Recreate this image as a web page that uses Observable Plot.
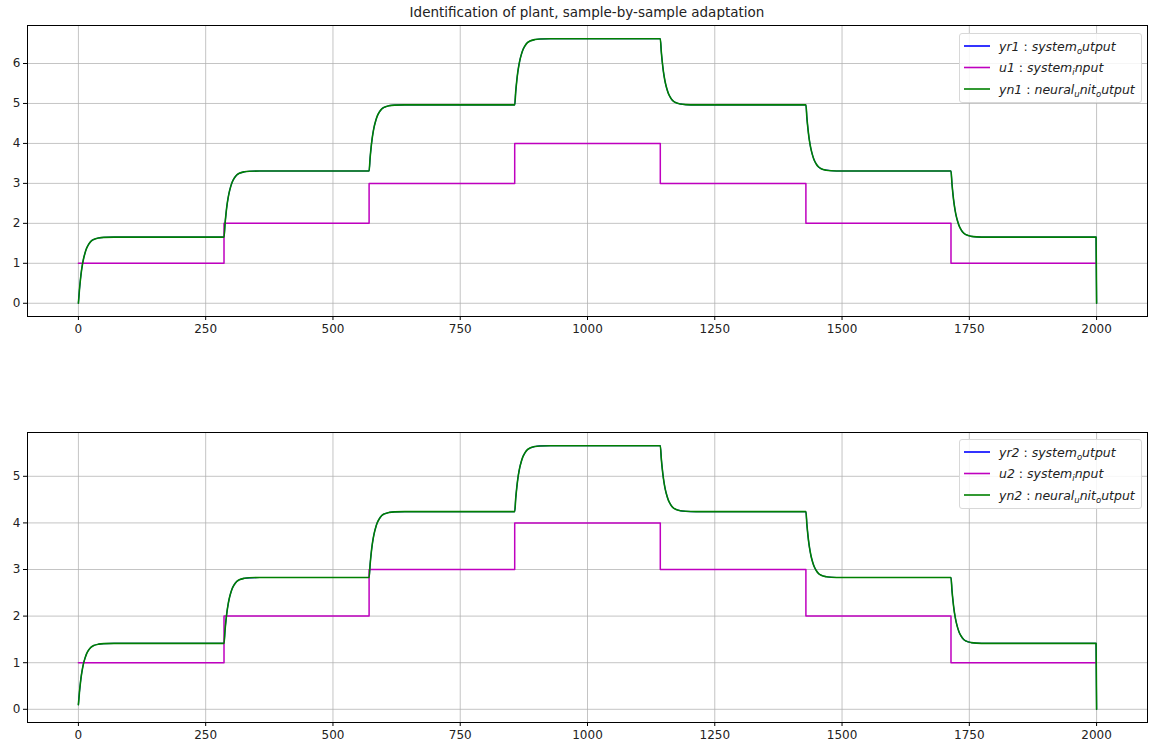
<!DOCTYPE html>
<html>
<head>
<meta charset="utf-8">
<script src="https://cdn.jsdelivr.net/npm/d3@7"></script>
<script src="https://cdn.jsdelivr.net/npm/@observablehq/plot@0.6"></script>
<style>
  body { margin: 0; background: #fff; }
  #wrap { position: relative; width: 1152px; height: 747px; font-family: "DejaVu Sans", sans-serif; }
  .abs { position: absolute; }
  #title { left: 27px; width: 1120px; top: 4px; text-align: center; font-size: 13.5px; color: #222; }
  .legend { position: absolute; background: rgba(255,255,255,0.85); border: 1px solid #d8d8d8; border-radius: 3px; }
</style>
</head>
<body>
<div id="wrap">
  <div id="title" class="abs">Identification of plant, sample-by-sample adaptation</div>
  <div id="p1" class="abs" style="left:0;top:20px"></div>
  <div id="p2" class="abs" style="left:0;top:420px"></div>
</div>
<script>
// ---- data ----
const stepTimes = [0, 286, 571, 857, 1143, 1429, 1714];
const uLevels   = [1, 2, 3, 4, 3, 2, 1];
const endTime = 2000;
const yr1Start = 0.0;
const yr1Levels = [1.655, 3.31, 4.965, 6.62, 4.965, 3.31, 1.655];
const yr2Start = 0.1;
const yr2Levels = [1.414, 2.828, 4.243, 5.657, 4.243, 2.828, 1.414];
const endValue = 0;
// response shape after each step (samples after step, fraction of change reached)
const riseOffsets = [0, 2, 4, 6, 8, 10, 13, 16, 20, 25, 30, 40, 50, 70];
const riseFrac    = [0, 0.2, 0.36, 0.49, 0.59, 0.67, 0.76, 0.83, 0.89, 0.94, 0.965, 0.988, 0.996, 1];
const xTicks = [0, 250, 500, 750, 1000, 1250, 1500, 1750, 2000];
const y1Ticks = [0, 1, 2, 3, 4, 5, 6];
const y2Ticks = [0, 1, 2, 3, 4, 5];

// ---- build tables ----
function uSeries() {
  const pts = stepTimes.map((t, i) => ({x: t, y: uLevels[i]}));
  pts.push({x: endTime - 1, y: uLevels[uLevels.length - 1]});
  return pts;
}
function ySeries(start, levels) {
  const pts = [];
  let prev = start;
  stepTimes.forEach((t, i) => {
    const next = i + 1 < stepTimes.length ? stepTimes[i + 1] : endTime - 1;
    riseOffsets.forEach((k, j) => {
      if (t + k < next) pts.push({x: t + k, y: prev + riseFrac[j] * (levels[i] - prev)});
    });
    pts.push({x: next, y: levels[i]});
    prev = levels[i];
  });
  pts.push({x: endTime, y: endValue});
  return pts;
}

const C = {yr: "#0000ff", u: "#bf00bf", yn: "#008000"};

function makePlot(yDomain, yTicks, yr, u, mt, mb, h) {
  return Plot.plot({
    width: 1152, height: h,
    marginLeft: 27, marginRight: 5, marginTop: mt, marginBottom: mb,
    style: {fontFamily: "DejaVu Sans, sans-serif", fontSize: "12px", color: "#222", background: "transparent"},
    x: {domain: [-100, 2100]},
    y: {domain: yDomain},
    marks: [
      Plot.gridX(xTicks, {stroke: "#b0b0b0", strokeOpacity: 0.75, strokeWidth: 1}),
      Plot.gridY(yTicks, {stroke: "#b0b0b0", strokeOpacity: 0.75, strokeWidth: 1}),
      Plot.axisX({ticks: xTicks, tickSize: 4, tickPadding: 4, label: null, stroke: "#000", fill: "#222", fontSize: 12, tickFormat: d => String(d)}),
      Plot.axisY({ticks: yTicks, tickSize: 4, tickPadding: 3, label: null, stroke: "#000", fill: "#222", fontSize: 12, tickFormat: d => String(d)}),
      Plot.line(yr, {x: "x", y: "y", stroke: C.yr, strokeWidth: 1.2, curve: "monotone-x"}),
      Plot.line(u, {x: "x", y: "y", stroke: C.u, strokeWidth: 1.5, curve: "step-after"}),
      Plot.line(yr, {x: "x", y: "y", stroke: C.yn, strokeWidth: 1.6, curve: "monotone-x"}),
      Plot.frame({stroke: "#000", strokeWidth: 1})
    ]
  });
}

const yr1 = ySeries(yr1Start, yr1Levels);
const yr2 = ySeries(yr2Start, yr2Levels);
const u = uSeries();

document.getElementById("p1").append(makePlot([-0.331, 6.951], y1Ticks, yr1, u, 5, 24, 320));
document.getElementById("p2").append(makePlot([-0.283, 5.94], y2Ticks, yr2, u, 12, 25, 327));

// ---- legends ----
function legend(top, n) {
  const items = [
    {c: C.yr, parts: [["yr" + n, 0], [" : ", 0, "n"], ["system", 0], ["o", 1], ["utput", 0]]},
    {c: C.u, parts: [["u" + n, 0], [" : ", 0, "n"], ["system", 0], ["i", 1], ["nput", 0]]},
    {c: C.yn, parts: [["yn" + n, 0], [" : ", 0, "n"], ["neural", 0], ["u", 1], ["nit", 0], ["o", 1], ["utput", 0]]}
  ];
  const box = d3.select("#wrap").append("div").attr("class", "legend")
    .style("left", "959px").style("top", top + "px").style("width", "181px").style("height", "68px");
  const svg = box.append("svg").attr("width", 181).attr("height", 68);
  items.forEach((it, i) => {
    const cy = 12 + i * 21.5;
    svg.append("line").attr("x1", 4).attr("x2", 30).attr("y1", cy).attr("y2", cy)
      .attr("stroke", it.c).attr("stroke-width", 1.6);
    const t = svg.append("text").attr("x", 39).attr("y", cy + 4.5)
      .attr("font-family", "DejaVu Sans, sans-serif").attr("font-size", 12.5).attr("fill", "#222");
    it.parts.forEach(p => {
      const ts = t.append("tspan").text(p[0]).attr("font-style", p[2] === "n" ? "normal" : "italic");
      if (p[1]) ts.attr("font-size", 8.5).attr("dy", 3);
      else if (ts.node().previousSibling && ts.node().previousSibling.getAttribute("dy") === "3") ts.attr("dy", -3);
    });
  });
}
legend(33, 1);
legend(439, 2);
</script>
</body>
</html>
